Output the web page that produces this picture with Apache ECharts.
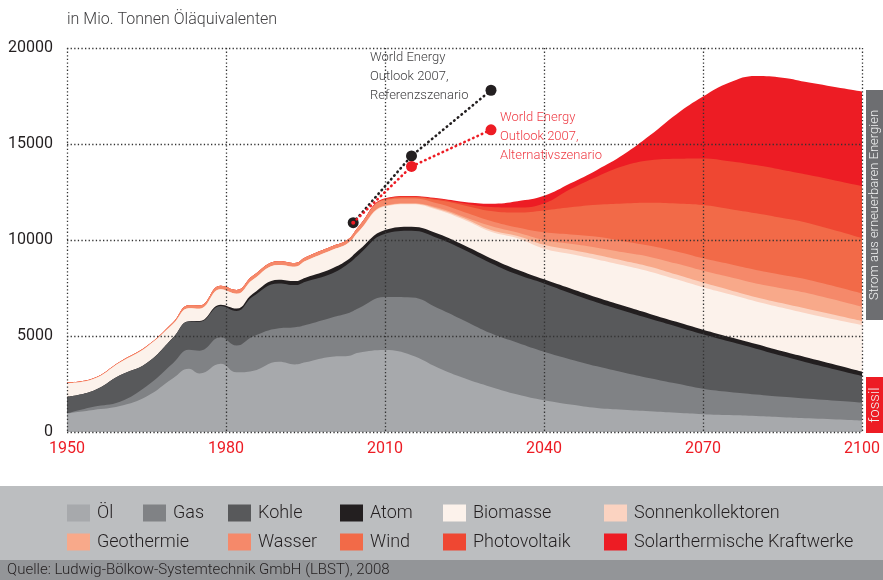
<!DOCTYPE html>
<html><head><meta charset="utf-8">
<script src="https://cdn.jsdelivr.net/npm/echarts@6/dist/echarts.min.js"></script>
<style>html,body{margin:0;padding:0;background:#fff}#c{width:883px;height:580px}</style>
</head><body><div id="c"></div><script>
// ---- data (Mio. t Öläquivalent, thickness of each stacked layer) ----
const years = [1950,1955,1960,1965,1970,1973,1975,1979,1982,1985,1990,1993,1995,2000,2003,2005,2010,2015,2020,2025,2030,2035,2040,2045,2050,2055,2060,2065,2070,2075,2080,2085,2090,2100];
const oel    = [970,1150,1350,1850,2800,3300,3050,3560,3110,3180,3660,3520,3630,3920,3960,4130,4270,4000,3350,2800,2350,1950,1650,1430,1250,1160,1080,1000,930,880,830,770,710,590];
const gas    = [0,170,230,530,780,980,1180,1370,1390,1780,1740,1930,1940,2050,2220,2310,2760,3010,3100,3000,2790,2700,2530,2350,2170,1940,1720,1520,1320,1200,1120,1060,1020,940];
const kohle  = [870,830,1370,1200,1320,1470,1510,1630,1800,2080,2340,2200,2260,2290,2570,2780,3290,3470,3640,3680,3650,3550,3560,3450,3330,3220,3100,2980,2840,2630,2390,2130,1870,1390];
const atom   = [0,0,0,0,10,20,40,70,130,150,190,210,210,260,220,240,200,210,230,230,250,250,210,240,250,250,250,240,240,240,240,240,250,220];
const biomasse = [700,610,670,840,710,680,640,800,770,730,770,750,860,960,860,970,1230,1170,1240,1330,1390,1640,1600,1800,1990,2110,2200,2210,2210,2220,2220,2270,2300,2430];
const sonnenkollektoren = [0,0,0,0,0,0,0,0,0,0,0,0,0,0,0,0,30,30,60,80,90,120,200,220,230,240,260,250,240,230,220,230,240,210];
const geothermie = [0,0,0,0,0,0,0,0,0,0,0,0,0,0,0,0,20,30,60,80,210,180,250,310,380,440,510,570,620,670,720,780,830,750];
const wasser = [40,40,40,40,80,150,170,190,200,200,190,190,200,190,190,260,280,240,220,250,260,260,400,490,570,580,580,630,650,680,700,700,700,690];
const wind   = [0,0,0,0,0,0,0,0,0,0,0,0,0,0,0,0,40,70,180,350,520,780,1140,1410,1660,1960,2240,2500,2770,2870,2950,2960,2950,2870];
const photovoltaik = [0,0,0,0,0,0,0,0,0,0,0,0,0,0,0,0,30,40,50,100,210,260,360,950,1470,1950,2210,2330,2430,2480,2510,2510,2520,2720];
const solarthermie = [0,0,0,0,0,0,0,0,0,0,0,0,0,0,0,0,20,20,40,80,170,330,400,300,350,600,1300,2320,3220,4100,4640,4800,4810,4920];

const weoYears = [2004, 2015, 2030];
const weoReferenz = [10900, 14380, 17800];
const weoAlternativ = [10900, 13830, 15740];

const xTicks = {min:1950, max:2100, interval:30};
const yTicks = {min:0, max:20000, interval:5000};

// ---- styling ----
const layers = [
  {name:'Öl', data:oel, color:'#A7A9AC'},
  {name:'Gas', data:gas, color:'#808285'},
  {name:'Kohle', data:kohle, color:'#58595B'},
  {name:'Atom', data:atom, color:'#231F20'},
  {name:'Biomasse', data:biomasse, color:'#FCF2EB'},
  {name:'Sonnenkollektoren', data:sonnenkollektoren, color:'#FBD3C1'},
  {name:'Geothermie', data:geothermie, color:'#F8A98A'},
  {name:'Wasser', data:wasser, color:'#F5896A'},
  {name:'Wind', data:wind, color:'#F26A48'},
  {name:'Photovoltaik', data:photovoltaik, color:'#EF4732'},
  {name:'Solarthermische Kraftwerke', data:solarthermie, color:'#ED1C24'}
];
const FONT = 'Roboto';
// cumulative stacking computed here; areas filled to the axis, drawn top layer first
const running = years.map(()=>0);
const series = layers.map((l) => {
  const cum = years.map((y,i)=> (running[i] += l.data[i]));
  return {
    name: l.name, type:'line', smooth:0.45, symbol:'none', silent:true,
    lineStyle:{width:0, color:l.color}, itemStyle:{color:l.color},
    areaStyle:{color:l.color, opacity:1, origin:'start'}, z:2,
    data: years.map((y,i)=>[y, cum[i]])
  };
}).reverse();
series.push({
  name:'WEO Referenz', type:'line', symbol:'circle', symbolSize:11, z:8,
  itemStyle:{color:'#231F20'},
  lineStyle:{color:'#231F20', width:2.6, type:[0.5,4.3], cap:'round'},
  data: weoYears.map((y,i)=>[y, weoReferenz[i]])
});
series.push({
  name:'WEO Alternativ', type:'line', symbol:'circle', z:9,
  symbolSize:(v,p)=> p.dataIndex===0 ? 4 : 11,
  itemStyle:{color:'#ED1C24'},
  lineStyle:{color:'#ED1C24', width:2.6, type:[0.5,4.3], cap:'round'},
  data: weoYears.map((y,i)=>[y, weoAlternativ[i]])
});

const legendPos = [
  ['Öl',67,504],['Gas',143,504],['Kohle',228,504],['Atom',340,504],['Biomasse',443,504],['Sonnenkollektoren',604,504],
  ['Geothermie',67,533],['Wasser',228,533],['Wind',340,533],['Photovoltaik',443,533],['Solarthermische Kraftwerke',604,533]
];
const legends = legendPos.map(([n,x,y]) => ({
  data:[n], left:x, top:y, padding:0, itemWidth:23, itemHeight:17, icon:'rect',
  selectedMode:false, z:10,
  textStyle:{fontFamily:FONT, fontWeight:300, fontSize:18, color:'#231F20', padding:[0,0,0,2]}
}));

const grid = {left:67, right:19, top:48, bottom:148};
const dotted = {color:'#333', type:[1.3,2.3], width:1.3};

const chart = echarts.init(document.getElementById('c'), null, {renderer:'canvas'});
chart.setOption({
  animation:false,
  backgroundColor:'#fff',
  grid,
  xAxis:{type:'value', min:xTicks.min, max:xTicks.max, interval:xTicks.interval, z:5,
    axisLine:{show:false}, axisTick:{show:false},
    splitLine:{show:true, lineStyle:dotted},
    axisLabel:{color:'#ED1C24', fontSize:16, fontFamily:FONT, margin:9, formatter:v=>String(v)}},
  yAxis:{type:'value', min:yTicks.min, max:yTicks.max, interval:yTicks.interval, z:5,
    axisLine:{show:false}, axisTick:{show:false},
    splitLine:{show:true, lineStyle:dotted},
    axisLabel:{color:'#231F20', fontSize:16, fontFamily:FONT, margin:14, formatter:v=>String(v)}},
  legend: legends,
  series,
  graphic:[
    {type:'rect', z:0, shape:{x:0,y:486,width:883,height:74}, style:{fill:'#BCBEC0'}},
    {type:'rect', z:0, shape:{x:0,y:560,width:883,height:20}, style:{fill:'#939598'}},
    {type:'text', z:1, x:7, y:570, style:{text:'Quelle: Ludwig-Bölkow-Systemtechnik GmbH (LBST), 2008', font:'300 15px '+FONT, fill:'#231F20', textVerticalAlign:'middle'}},
    {type:'text', z:1, x:67, y:20, style:{text:'in Mio. Tonnen Öläquivalenten', font:'300 16px '+FONT, fill:'#414042', textVerticalAlign:'middle'}},
    {type:'text', z:10, x:370, y:48, style:{text:'World Energy\nOutlook 2007,\nReferenzszenario', font:'300 13px '+FONT, lineHeight:19, fill:'#414042'}},
    {type:'text', z:10, x:500, y:108, style:{text:'World Energy\nOutlook 2007,\nAlternativszenario', font:'300 13px '+FONT, lineHeight:19, fill:'#EE3A43'}},
    {type:'rect', z:1, shape:{x:866,y:90,width:17,height:230}, style:{fill:'#6D6E71'}},
    {type:'rect', z:1, shape:{x:866,y:377,width:17,height:56}, style:{fill:'#ED1C24'}},
    {type:'text', z:2, x:875, y:205, rotation:Math.PI/2, style:{text:'Strom aus erneuerbaren Energien', font:'300 13px '+FONT, fill:'#F1F2F2', textAlign:'center', textVerticalAlign:'middle'}},
    {type:'text', z:2, x:875, y:405, rotation:Math.PI/2, style:{text:'fossil', font:'300 15px '+FONT, fill:'#F1F2F2', textAlign:'center', textVerticalAlign:'middle'}}
  ]
});
</script></body></html>
